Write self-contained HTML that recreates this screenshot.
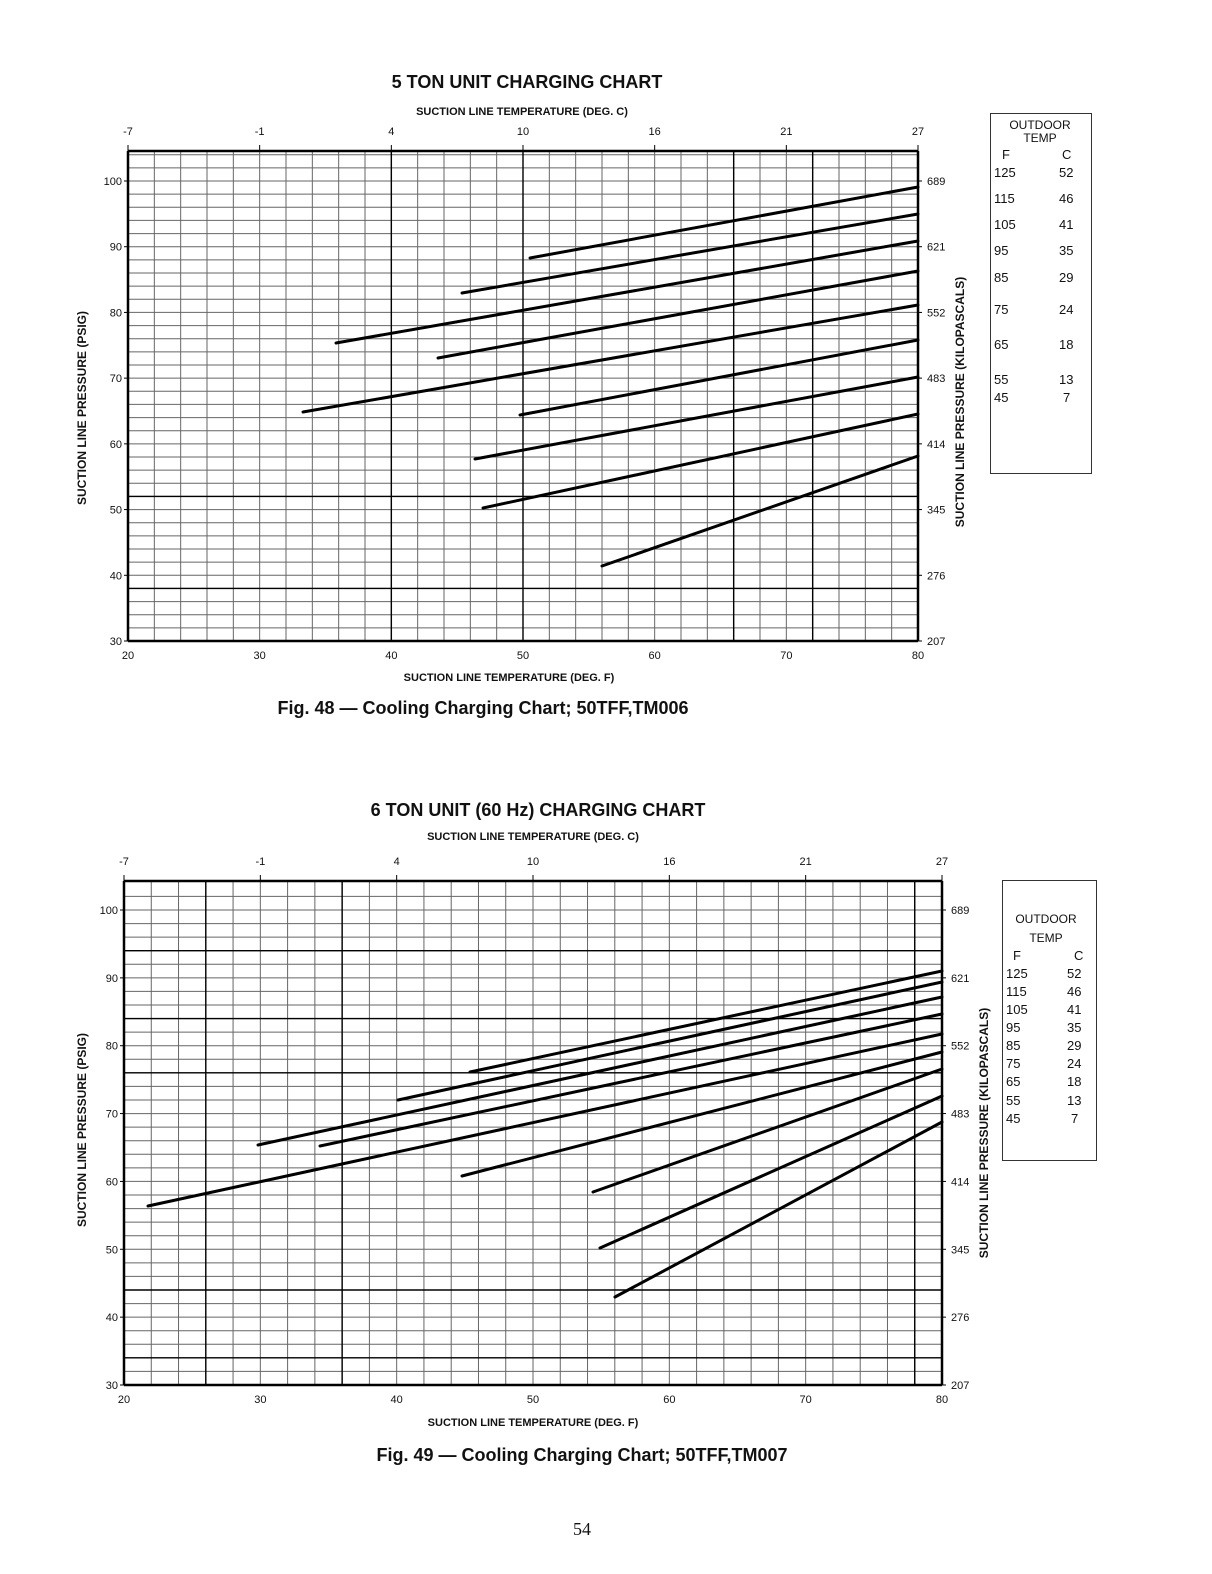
<!DOCTYPE html>
<html><head><meta charset="utf-8">
<style>
html,body{margin:0;padding:0;background:#fff;}
svg{display:block;font-family:"Liberation Sans",Arial,sans-serif;}
</style></head>
<body>
<svg id="s" width="1212" height="1574" viewBox="0 0 1212 1574" xmlns="http://www.w3.org/2000/svg">
<rect width="1212" height="1574" fill="#fff"/>
<g id="g1"></g>
<g id="g2"></g>
<g font-size="11" fill="#111">
<text x="527" y="88" font-size="18" font-weight="bold" text-anchor="middle">5 TON UNIT CHARGING CHART</text>
<text x="522" y="115" font-size="11" font-weight="bold" text-anchor="middle">SUCTION LINE TEMPERATURE (DEG. C)</text>
<text x="509" y="681" font-size="11" font-weight="bold" text-anchor="middle">SUCTION LINE TEMPERATURE (DEG. F)</text>
<text x="483" y="714" font-size="18" font-weight="bold" text-anchor="middle">Fig. 48 — Cooling Charging Chart; 50TFF,TM006</text>
<text transform="translate(86,408) rotate(-90)" font-size="12" font-weight="bold" text-anchor="middle">SUCTION LINE PRESSURE (PSIG)</text>
<text transform="translate(964,402) rotate(-90)" font-size="12" font-weight="bold" text-anchor="middle">SUCTION LINE PRESSURE (KILOPASCALS)</text>
<text x="538" y="816" font-size="18" font-weight="bold" text-anchor="middle">6 TON UNIT (60 Hz) CHARGING CHART</text>
<text x="533" y="840" font-size="11" font-weight="bold" text-anchor="middle">SUCTION LINE TEMPERATURE (DEG. C)</text>
<text x="533" y="1426" font-size="11" font-weight="bold" text-anchor="middle">SUCTION LINE TEMPERATURE (DEG. F)</text>
<text x="582" y="1461" font-size="18" font-weight="bold" text-anchor="middle">Fig. 49 — Cooling Charging Chart; 50TFF,TM007</text>
<text transform="translate(86,1130) rotate(-90)" font-size="12" font-weight="bold" text-anchor="middle">SUCTION LINE PRESSURE (PSIG)</text>
<text transform="translate(988,1133) rotate(-90)" font-size="12" font-weight="bold" text-anchor="middle">SUCTION LINE PRESSURE (KILOPASCALS)</text>
<text x="582" y="1535" font-size="18" font-family="Liberation Serif,serif" text-anchor="middle">54</text>
</g>
<rect x="990.5" y="113.5" width="101" height="360" fill="none" stroke="#333"/>
<g font-size="13" fill="#111">
<text x="1040" y="129" text-anchor="middle" font-size="12">OUTDOOR</text>
<text x="1040" y="142" text-anchor="middle" font-size="12">TEMP</text>
<text x="1002" y="159">F</text><text x="1062" y="159">C</text>
<text x="994" y="177">125</text><text x="1059" y="177">52</text>
<text x="994" y="203">115</text><text x="1059" y="203">46</text>
<text x="994" y="229">105</text><text x="1059" y="229">41</text>
<text x="994" y="255">95</text><text x="1059" y="255">35</text>
<text x="994" y="282">85</text><text x="1059" y="282">29</text>
<text x="994" y="314">75</text><text x="1059" y="314">24</text>
<text x="994" y="349">65</text><text x="1059" y="349">18</text>
<text x="994" y="384">55</text><text x="1059" y="384">13</text>
<text x="994" y="402">45</text><text x="1063" y="402">7</text>
</g>
<rect x="1002.5" y="880.5" width="94" height="280" fill="none" stroke="#333"/>
<g font-size="13" fill="#111">
<text x="1046" y="923" text-anchor="middle" font-size="12">OUTDOOR</text>
<text x="1046" y="942" text-anchor="middle" font-size="12">TEMP</text>
<text x="1013" y="960">F</text><text x="1074" y="960">C</text>
<text x="1006" y="978">125</text><text x="1067" y="978">52</text>
<text x="1006" y="996">115</text><text x="1067" y="996">46</text>
<text x="1006" y="1014">105</text><text x="1067" y="1014">41</text>
<text x="1006" y="1032">95</text><text x="1067" y="1032">35</text>
<text x="1006" y="1050">85</text><text x="1067" y="1050">29</text>
<text x="1006" y="1068">75</text><text x="1067" y="1068">24</text>
<text x="1006" y="1086">65</text><text x="1067" y="1086">18</text>
<text x="1006" y="1105">55</text><text x="1067" y="1105">13</text>
<text x="1006" y="1123">45</text><text x="1071" y="1123">7</text>
</g>
</svg>
<script>
var NS="http://www.w3.org/2000/svg";
function el(g,t,a){var e=document.createElementNS(NS,t);for(var k in a)e.setAttribute(k,a[k]);g.appendChild(e);return e;}
function chart(gid,L,R,T,B,y100,heavyF,heavyP,lines){
  var g=document.getElementById(gid);
  var dx=(R-L)/30, dy=(B-y100)/35;
  function X(f){return L+(f-20)/2*dx;} function Y(p){return B-(p-30)/2*dy;}
  for(var i=1;i<30;i++){var x=L+i*dx;el(g,"line",{x1:x,y1:T,x2:x,y2:B,stroke:"#666","stroke-width":1});}
  for(var k=1;;k++){var y=B-k*dy;if(y<T+3)break;el(g,"line",{x1:L,y1:y,x2:R,y2:y,stroke:"#666","stroke-width":1});}
  heavyF.forEach(function(f){var x=X(f);el(g,"line",{x1:x,y1:T,x2:x,y2:B,stroke:"#000","stroke-width":1.4});});
  heavyP.forEach(function(p){var y=Y(p);el(g,"line",{x1:L,y1:y,x2:R,y2:y,stroke:"#000","stroke-width":1.4});});
  el(g,"line",{x1:L,y1:T,x2:R,y2:T,stroke:"#000","stroke-width":2.5});
  el(g,"line",{x1:L,y1:B,x2:R,y2:B,stroke:"#000","stroke-width":2.5});
  el(g,"line",{x1:L,y1:T,x2:L,y2:B,stroke:"#000","stroke-width":2.5});
  el(g,"line",{x1:R,y1:T,x2:R,y2:B,stroke:"#000","stroke-width":2.5});
  var fx=["20","30","40","50","60","70","80"], cx=["-7","-1","4","10","16","21","27"];
  for(var i=0;i<7;i++){var x=L+i*5*dx;
    var t=el(g,"text",{x:x,y:B+18,"font-size":11,"text-anchor":"middle",fill:"#111"});t.textContent=fx[i];
    var t2=el(g,"text",{x:x,y:T-16,"font-size":11,"text-anchor":"middle",fill:"#111"});t2.textContent=cx[i];
    el(g,"line",{x1:x,y1:T-6,x2:x,y2:T,stroke:"#000"});
  }
  var ps=[100,90,80,70,60,50,40,30], kp=["689","621","552","483","414","345","276","207"];
  for(var j=0;j<8;j++){var y=Y(ps[j]);
    var t=el(g,"text",{x:L-6,y:y+4,"font-size":11,"text-anchor":"end",fill:"#111"});t.textContent=ps[j];
    var t2=el(g,"text",{x:R+9,y:y+4,"font-size":11,fill:"#111"});t2.textContent=kp[j];
    el(g,"line",{x1:L-4,y1:y,x2:L,y2:y,stroke:"#000"});el(g,"line",{x1:R,y1:y,x2:R+4,y2:y,stroke:"#000"});
  }
  lines.forEach(function(p){el(g,"line",{x1:p[0],y1:p[1],x2:p[2],y2:p[3],stroke:"#000","stroke-width":3,"stroke-linecap":"round"});});
}
chart("g1",128,918,151,641,181,[40,50,66,72],[52,38],
 [[530,258,918,187],[462,293,918,214],[336,343,918,241],[438,358,918,271],[303,412,918,305],
  [520,415,918,340],[475,459,918,377],[483,508,918,414],[602,566,918,456]]);
chart("g2",124,942,881,1385,910,[26,36,78],[94,84,76,44,34],
 [[470,1072,942,971],[398,1100,942,982],[258,1145,942,997],[320,1146,942,1014],[148,1206,942,1034],
  [462,1176,942,1052],[593,1192,942,1069],[600,1248,942,1096],[615,1297,942,1122]]);
</script>
</body></html>
